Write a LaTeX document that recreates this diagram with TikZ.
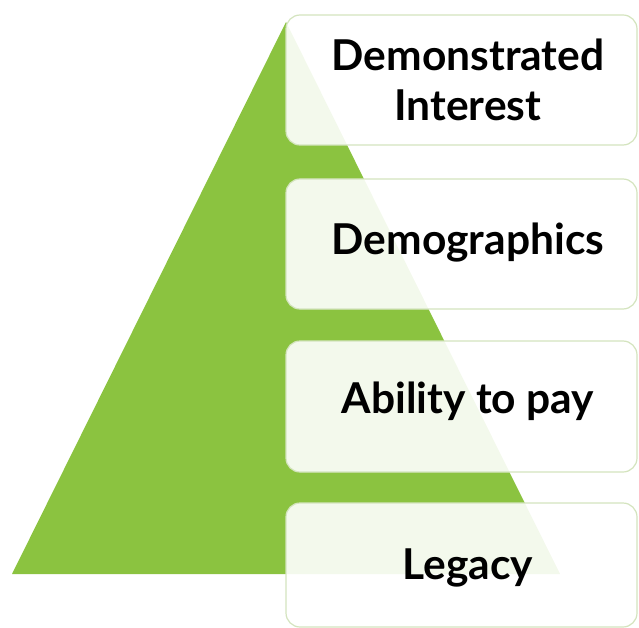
\documentclass[tikz,border=0pt]{standalone}
\usepackage{fontspec}
\setmainfont{Lato}
\definecolor{pyrgreen}{RGB}{139,195,64}
\definecolor{boxedge}{RGB}{212,228,190}
\tikzset{
  levelbox/.style={draw=boxedge, line width=1.2pt, fill=white, fill opacity=0.9,
    rounded corners=14pt},
  leveltext/.style={font=\bfseries\fontsize{42.5}{50}\selectfont, text=black, align=center, text opacity=1}
}
\begin{document}
\begin{tikzpicture}[x=1pt,y=-1pt]
\useasboundingbox (0,0) rectangle (639,628);
\fill[pyrgreen] (12,574) -- (286,22) -- (560,574) -- cycle;
\draw[levelbox] (286,15) rectangle (637,145);
\draw[levelbox] (286,179) rectangle (637,309);
\draw[levelbox] (286,341) rectangle (637,472);
\draw[levelbox] (286,503) rectangle (637,627);
\node[leveltext] (l1) at (468,80) {Demonstrated\\Interest};
\node[leveltext] (l2) at (468,243) {Demographics};
\node[leveltext] (l3) at (468,401) {Ability to pay};
\node[leveltext] (l4) at (468,568) {Legacy};
\end{tikzpicture}
\end{document}
